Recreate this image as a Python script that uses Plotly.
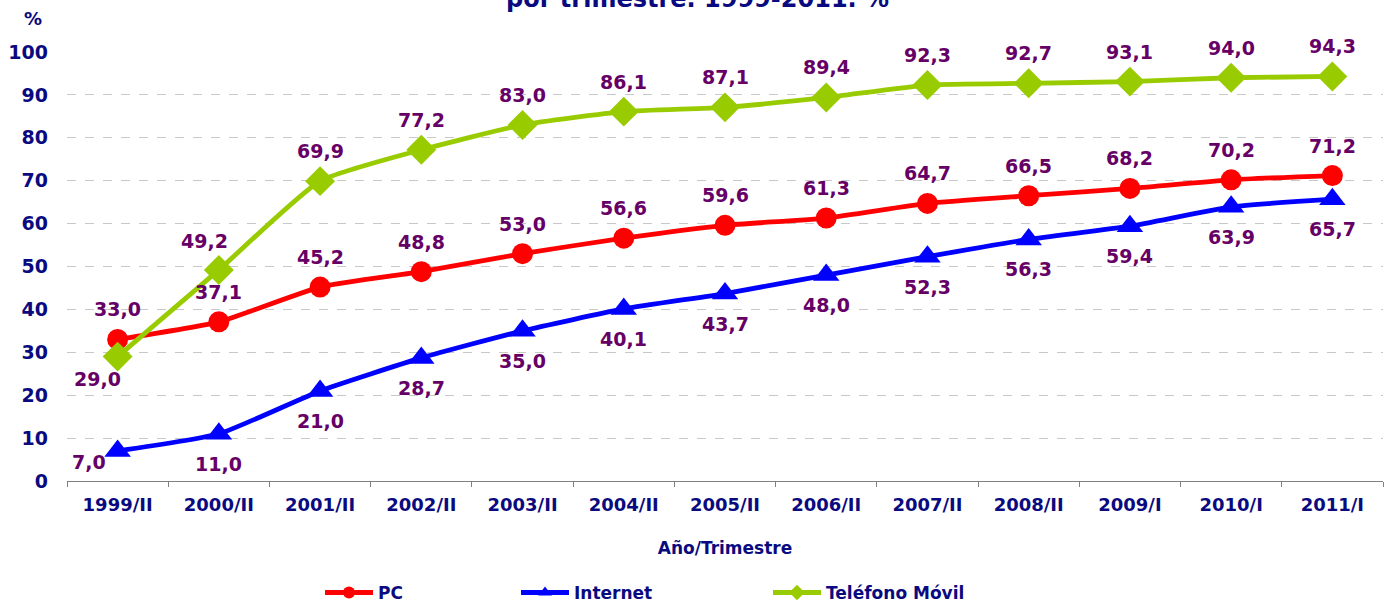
import plotly.graph_objects as go

categories = ["1999/II", "2000/II", "2001/II", "2002/II", "2003/II", "2004/II", "2005/II",
              "2006/II", "2007/II", "2008/II", "2009/I", "2010/I", "2011/I"]
pc = [33.0, 37.1, 45.2, 48.8, 53.0, 56.6, 59.6, 61.3, 64.7, 66.5, 68.2, 70.2, 71.2]
internet = [7.0, 11.0, 21.0, 28.7, 35.0, 40.1, 43.7, 48.0, 52.3, 56.3, 59.4, 63.9, 65.7]
movil = [29.0, 49.2, 69.9, 77.2, 83.0, 86.1, 87.1, 89.4, 92.3, 92.7, 93.1, 94.0, 94.3]
yticks = [0, 10, 20, 30, 40, 50, 60, 70, 80, 90, 100]

NAVY = "#0A0A80"
PURPLE = "#660066"
FONT = "DejaVu Sans"

W, H = 1389, 603
ML, MR, MT, MB = 67, 6, 52, 122
PW, PH = W - ML - MR, H - MT - MB

def px_x(px):
    return (px - ML) / PW

def px_y(py):
    return (H - MB - py) / PH

def fmt(v):
    return f"{v:.1f}".replace(".", ",")

series = [
    ("PC", pc, "#FF0000", "circle", 21, "legend"),
    ("Internet", internet, "#0000FF", "triangle-up", 23, "legend2"),
    ("Teléfono Móvil", movil, "#99CC00", "diamond", 23, "legend3"),
]

fig = go.Figure()
for name, vals, col, sym, msize, leg in series:
    fig.add_trace(go.Scatter(
        x=categories, y=vals, name=name, mode="lines+markers",
        line=dict(color=col, width=4.8, shape="spline", smoothing=0.5),
        marker=dict(symbol=sym, size=msize, color=col),
        legend=leg, cliponaxis=False,
    ))

# label offsets (pixels) per series
label_specs = [
    (pc, [(0, -30)] * len(pc)),
    (internet, [(-29, 11)] + [(0, 30)] * (len(internet) - 1)),
    (movil, [(-20, 22), (-14, -29)] + [(0, -30)] * (len(movil) - 2)),
]
for vals, offs in label_specs:
    for c, v, (dx, dy) in zip(categories, vals, offs):
        fig.add_annotation(x=c, y=v, text=fmt(v), showarrow=False,
                           xshift=dx, yshift=-dy,
                           font=dict(family=FONT, size=19, color=PURPLE, weight="bold"))

fig.add_annotation(xref="paper", yref="paper", x=px_x(697), y=px_y(-1),
                   yanchor="middle", xanchor="center", showarrow=False,
                   text="por trimestre. 1999-2011. %",
                   font=dict(family=FONT, size=24, color=NAVY, weight="bold"))
fig.add_annotation(xref="paper", yref="paper", x=px_x(33), y=px_y(18),
                   yanchor="middle", xanchor="center", showarrow=False, text="%",
                   font=dict(family=FONT, size=18, color=NAVY, weight="bold"))

legfont = dict(family=FONT, size=17, color=NAVY, weight="bold")
def leg(xpx):
    return dict(xref="container", yref="container", x=xpx / W, y=1 - 593 / H,
                xanchor="left", yanchor="middle", orientation="h", font=legfont,
                bgcolor="rgba(0,0,0,0)", itemwidth=48, itemsizing="constant")

fig.update_layout(
    width=W, height=H,
    margin=dict(l=ML, r=MR, t=MT, b=MB, autoexpand=False),
    paper_bgcolor="white", plot_bgcolor="white",
    showlegend=True,
    legend=leg(320), legend2=leg(516), legend3=leg(768),
    xaxis=dict(
        type="category", tickson="boundaries", ticks="outside", ticklen=5,
        tickcolor="#808080", showline=True, linecolor="#808080", linewidth=1,
        showgrid=False, range=[-0.5, len(categories) - 0.5], automargin=False,
        tickfont=dict(family=FONT, size=18, color=NAVY, weight="bold"),
        ticklabelstandoff=7,
        title=dict(text="Año/Trimestre", standoff=28,
                   font=dict(family=FONT, size=17, color=NAVY, weight="bold")),
    ),
    yaxis=dict(
        range=[0, 100], tickvals=yticks, showgrid=True, gridcolor="#C8C8C8",
        griddash="dash", gridwidth=1, zeroline=False, showline=False, automargin=False,
        tickfont=dict(family=FONT, size=19, color=NAVY, weight="bold"),
        ticklabelstandoff=18,
    ),
)

fig.write_html("out.html", config={"displayModeBar": False},
               post_script="document.body.style.margin='0';")
